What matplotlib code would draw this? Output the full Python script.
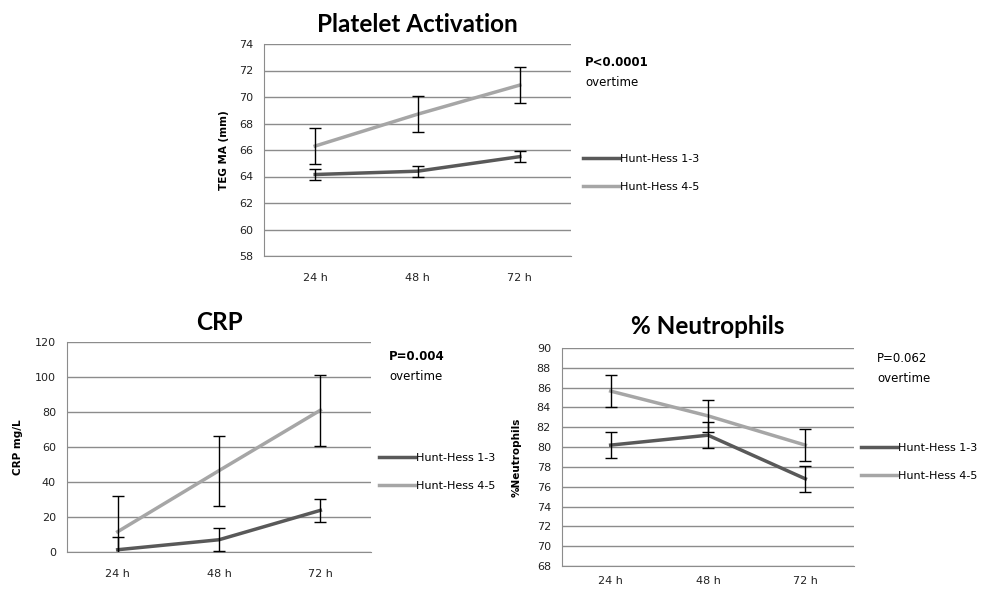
import numpy as np
import matplotlib.pyplot as plt

times = ['24 h', '48 h', '72 h']
series_names = ['Hunt-Hess 1-3', 'Hunt-Hess 4-5']

# Platelet activation (TEG MA, mm)
teg_low = [64.15, 64.4, 65.5]
teg_low_err = [0.42, 0.42, 0.42]
teg_high = [66.3, 68.7, 70.9]
teg_high_err = [1.33, 1.35, 1.35]

# CRP (mg/L)
crp_low = [1.3, 7.0, 23.8]
crp_low_err = [7.3, 6.6, 6.6]
crp_high = [11.6, 46.5, 81.0]
crp_high_err = [20.2, 20.0, 20.2]

# % Neutrophils
neu_low = [80.2, 81.2, 76.8]
neu_low_err = [1.33, 1.3, 1.33]
neu_high = [85.65, 83.15, 80.2]
neu_high_err = [1.6, 1.6, 1.6]

dark = '#595959'
light = '#a6a6a6'
grid_col = '#8c8c8c'

W, H = 988, 590
fig = plt.figure(figsize=(W / 100, H / 100), dpi=100)


def px_axes(x0, y0, x1, y1):
    return fig.add_axes([x0 / W, 1 - y1 / H, (x1 - x0) / W, (y1 - y0) / H])


def draw_panel(ax, low, low_err, high, high_err, ymin, ymax, step,
               title, ylabel, ylabel_x, ptext, pbold, px, py, legx, legy, title_y,
               xpad=12):
    x = np.arange(len(times))
    ax.plot(x, high, color=light, lw=2.5, zorder=3, label=series_names[1])
    ax.plot(x, low, color=dark, lw=2.5, zorder=3, label=series_names[0])
    ax.errorbar(x, high, yerr=high_err, fmt='none', ecolor='black', elinewidth=1,
                capsize=4, capthick=1, zorder=4)
    ax.errorbar(x, low, yerr=low_err, fmt='none', ecolor='black', elinewidth=1,
                capsize=4, capthick=1, zorder=4)
    ax.set_xlim(-0.5, len(times) - 0.5)
    ax.set_ylim(ymin, ymax)
    ax.set_yticks(np.arange(ymin, ymax + step / 2, step))
    ax.set_xticks(x)
    ax.set_xticklabels(times)
    ax.grid(axis='y', color=grid_col, lw=1)
    ax.set_axisbelow(True)
    for s in ['top', 'right']:
        ax.spines[s].set_visible(False)
    ax.spines['left'].set_color(grid_col)
    ax.spines['bottom'].set_color(grid_col)
    ax.tick_params(length=0, labelsize=8, colors='#222222', pad=8)
    ax.tick_params(axis='x', pad=xpad)

    bb = ax.get_position()
    fig.text(bb.x0 + bb.width / 2, 1 - title_y / H, title, ha='center', va='center',
             fontsize=17.5, fontweight='bold', family='Lato')
    fig.text(ylabel_x / W, bb.y0 + bb.height / 2, ylabel, rotation=90, ha='center',
             va='center', fontsize=7.5, fontweight='bold')
    fig.text(px / W, 1 - py / H, ptext, ha='left', va='center', fontsize=8.5,
             fontweight='bold' if pbold else 'normal')
    fig.text(px / W, 1 - (py + 20) / H, 'overtime', ha='left', va='center', fontsize=8.5)

    handles, labels = ax.get_legend_handles_labels()
    fig.legend(handles[::-1], labels[::-1], loc='upper left',
               bbox_to_anchor=(legx / W, 1 - legy / H), frameon=False, fontsize=8,
               handlelength=3.2, handletextpad=0.1, labelspacing=1.6, borderpad=0,
               borderaxespad=0)


ax1 = px_axes(264, 44, 571, 256)
draw_panel(ax1, teg_low, teg_low_err, teg_high, teg_high_err, 58, 74, 2,
           'Platelet Activation', 'TEG MA (mm)', 224, 'P<0.0001', True, 585, 62,
           583, 154, 24)

ax2 = px_axes(67, 342, 371, 552)
draw_panel(ax2, crp_low, crp_low_err, crp_high, crp_high_err, 0, 120, 20,
           'CRP', 'CRP mg/L', 18, 'P=0.004', True, 389, 356,
           379, 453, 323)

ax3 = px_axes(562, 348, 854, 566)
draw_panel(ax3, neu_low, neu_low_err, neu_high, neu_high_err, 68, 90, 2,
           '% Neutrophils', '%Neutrophils', 517, 'P=0.062', False, 877, 359,
           861, 443, 327, xpad=7)

fig.savefig('out.png', dpi=100)
